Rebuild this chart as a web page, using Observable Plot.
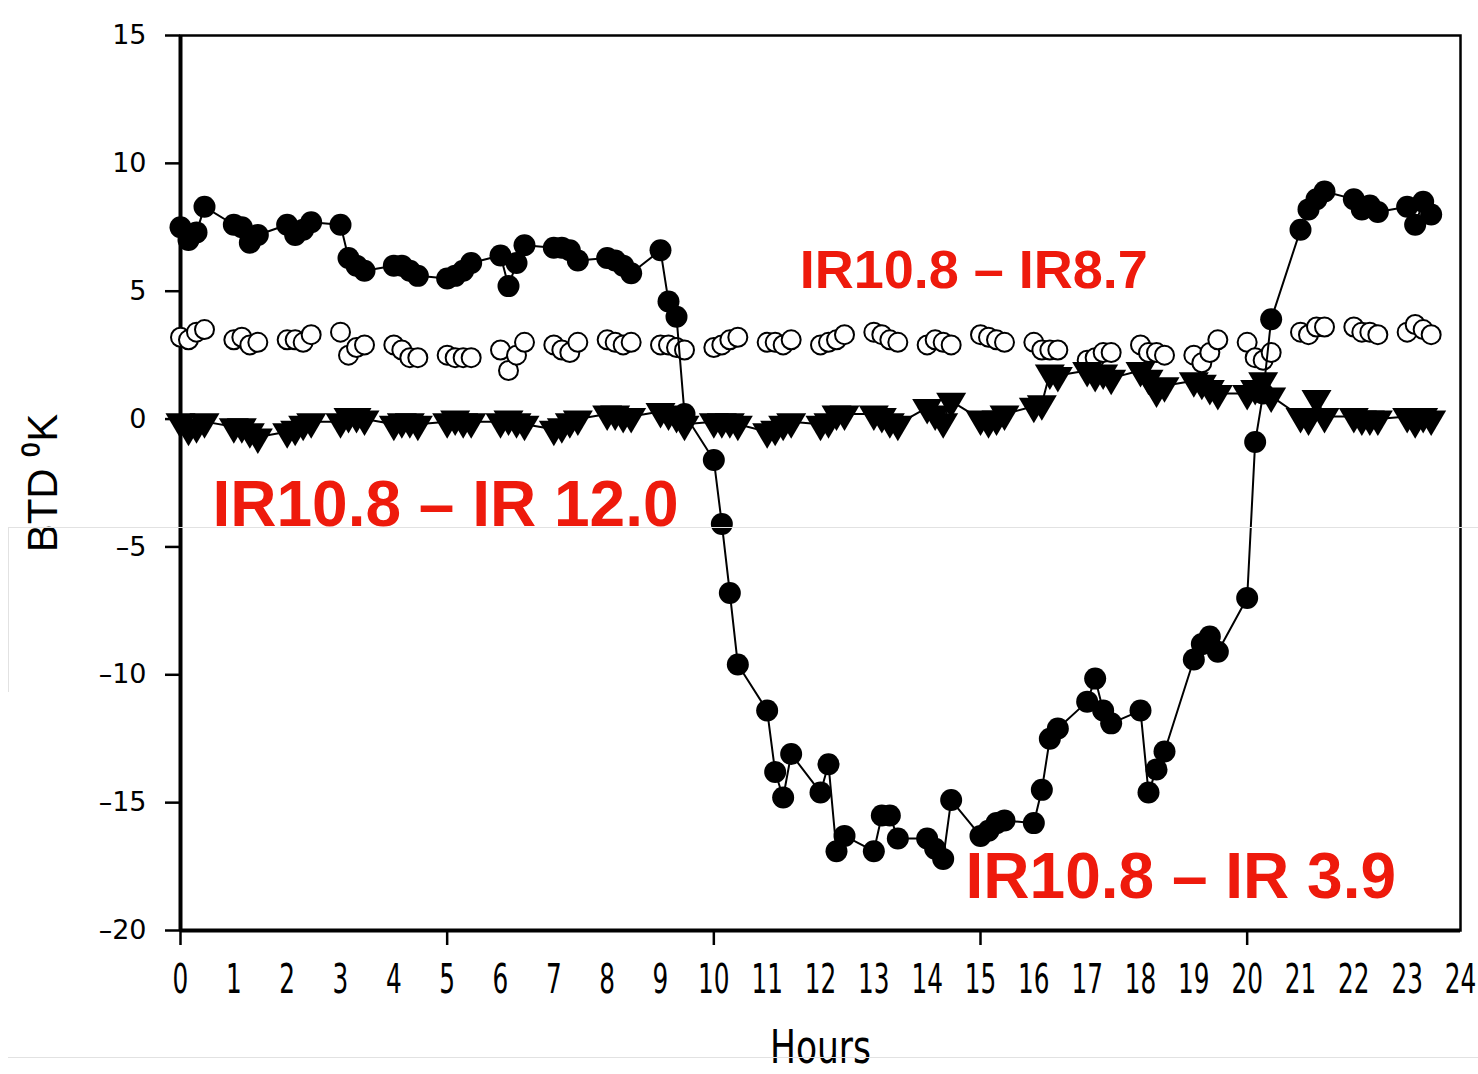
<!DOCTYPE html>
<html><head><meta charset="utf-8">
<script src="https://cdn.jsdelivr.net/npm/d3@7"></script>
<script src="https://cdn.jsdelivr.net/npm/@observablehq/plot@0.6"></script>
<style>
html,body{margin:0;padding:0;background:#fff;}
#wrap{position:relative;width:1478px;height:1074px;overflow:hidden;background:#fff;}
.artifact{position:absolute;background:#e2e2e2;pointer-events:none;}
</style></head><body>
<div id="wrap"></div>
<script>
// Hours of the day and the minute slots within each hour (plotted as hour + minutes/100)
const hoursOfDay = [0,1,2,3,4,5,6,7,8,9,10,11,12,13,14,15,16,17,18,19,20,21,22,23];
const minuteSlots = [0, 15, 30, 45];

// IR10.8 – IR 3.9 (filled circles), one row per hour
const ir39 = [
  [7.5, 7.0, 7.3, 8.3], [7.6, 7.5, 6.9, 7.2], [7.6, 7.2, 7.4, 7.7], [7.6, 6.3, 6.0, 5.8],
  [6.0, 6.0, 5.8, 5.6], [5.5, 5.6, 5.8, 6.1], [6.4, 5.2, 6.1, 6.8], [6.7, 6.7, 6.6, 6.2],
  [6.3, 6.2, 6.0, 5.7], [6.6, 4.6, 4.0, 0.2], [-1.6, -4.1, -6.8, -9.6], [-11.4, -13.8, -14.8, -13.1],
  [-14.6, -13.5, -16.9, -16.3], [-16.9, -15.5, -15.5, -16.4], [-16.4, -16.8, -17.2, -14.9], [-16.3, -16.1, -15.8, -15.7],
  [-15.8, -14.5, -12.5, -12.1], [-11.05, -10.15, -11.4, -11.9], [-11.4, -14.6, -13.7, -13.0], [-9.4, -8.8, -8.5, -9.1],
  [-7.0, -0.9, 1.0, 3.9], [7.4, 8.2, 8.6, 8.9], [8.6, 8.2, 8.35, 8.1], [8.3, 7.6, 8.5, 8.0]
];
// IR10.8 – IR8.7 (open circles)
const ir87 = [
  [3.2, 3.1, 3.4, 3.5], [3.1, 3.2, 2.9, 3.0], [3.1, 3.1, 3.0, 3.3], [3.4, 2.5, 2.8, 2.9],
  [2.9, 2.7, 2.4, 2.4], [2.5, 2.4, 2.4, 2.4], [2.7, 1.9, 2.5, 3.0], [2.9, 2.7, 2.6, 3.0],
  [3.1, 3.0, 2.9, 3.0], [2.9, 2.9, 2.8, 2.7], [2.8, 2.9, 3.1, 3.2], [3.0, 3.0, 2.9, 3.1],
  [2.9, 3.0, 3.1, 3.3], [3.4, 3.3, 3.1, 3.0], [2.9, 3.1, 3.0, 2.9], [3.3, 3.2, 3.1, 3.0],
  [3.0, 2.7, 2.7, 2.7], [2.3, 2.4, 2.6, 2.6], [2.9, 2.6, 2.6, 2.5], [2.5, 2.2, 2.6, 3.1],
  [3.0, 2.4, 2.3, 2.6], [3.4, 3.3, 3.6, 3.6], [3.6, 3.4, 3.4, 3.3], [3.4, 3.7, 3.5, 3.3]
];
// IR10.8 – IR 12.0 (filled down-triangles)
const ir120 = [
  [-0.1, -0.4, -0.3, -0.1], [-0.3, -0.3, -0.5, -0.7], [-0.5, -0.4, -0.2, -0.1], [-0.1, 0.1, 0.1, 0.0],
  [-0.2, -0.1, -0.1, -0.2], [-0.1, 0.0, -0.1, -0.1], [-0.1, 0.0, -0.1, -0.2], [-0.4, -0.3, -0.1, 0.0],
  [0.2, 0.2, 0.1, 0.1], [0.3, 0.2, 0.1, -0.2], [-0.1, -0.1, -0.1, -0.2], [-0.5, -0.4, -0.2, -0.1],
  [-0.2, -0.1, 0.2, 0.2], [0.2, 0.1, -0.1, -0.2], [0.45, 0.2, -0.1, 0.7], [0.0, -0.1, 0.0, 0.2],
  [0.5, 0.6, 1.8, 1.7], [1.9, 1.7, 1.8, 1.6], [1.9, 1.6, 1.1, 1.3], [1.5, 1.4, 1.2, 1.0],
  [1.0, 1.2, 1.5, 0.9], [0.1, 0.0, 0.8, 0.1], [0.1, 0.0, 0.0, 0.0], [0.1, -0.1, 0.1, 0.0]
];

const xTickLabels = [0,1,2,3,4,5,6,7,8,9,10,11,12,13,14,15,16,17,18,19,20,21,22,23,24];
const xMajorTicks = [0, 5, 10, 15, 20];
const yTicks = [-20, -15, -10, -5, 0, 5, 10, 15];

const labelSmall = [{text: "IR10.8 – IR8.7", t: 11.61, v: 5.12}];
const labelBig = [
  {text: "IR10.8 – IR 12.0", t: 0.6, v: -4.18},
  {text: "IR10.8 – IR 3.9", t: 14.72, v: -18.71}
];

const toRows = (rows) => hoursOfDay.flatMap((h, i) => minuteSlots.map((m, j) => ({t: h + m / 100, v: rows[i][j]})));
const d39 = toRows(ir39), d87 = toRows(ir87), d120 = toRows(ir120);

const triangleDown = {
  draw(ctx, size) {
    const r = Math.sqrt(size / Math.PI);
    ctx.moveTo(-1.5 * r, -0.85 * r);
    ctx.lineTo(1.5 * r, -0.85 * r);
    ctx.lineTo(0, 1.7 * r);
    ctx.closePath();
  }
};

const red = "#ee1a0c";
const chart = Plot.plot({
  width: 1478, height: 1074,
  marginLeft: 180, marginRight: 18, marginTop: 35, marginBottom: 144,
  x: {domain: [0, 24], label: null},
  y: {domain: [-20, 15], label: null},
  style: {fontFamily: "'Liberation Sans', Arial, sans-serif", background: "white", color: "black"},
  marks: [
    Plot.axisY({ticks: yTicks, tickSize: 15, tickPadding: 19, strokeWidth: 2.5, fontSize: 27,
      fontFamily: "'DejaVu Sans', sans-serif", label: null,
      tickFormat: d => d < 0 ? "–" + (-d) : String(d)}),
    Plot.axisX({ticks: xMajorTicks, tickSize: 15, strokeWidth: 2.5, tickFormat: () => "", label: null}),
    Plot.axisX({ticks: xTickLabels, tickSize: 0, tickPadding: 34, fontSize: 40,
      fontFamily: "'DejaVu Sans', sans-serif", label: null,
      tickFormat: d => String(d)}),
    Plot.frame({stroke: "black", strokeWidth: 2.5}),
    Plot.ruleX([0], {stroke: "black", strokeWidth: 4}),
    Plot.ruleY([-20], {stroke: "black", strokeWidth: 4}),
    // IR10.8 – IR8.7
    Plot.dot(d87, {x: "t", y: "v", r: 9.5, fill: "white", stroke: "black", strokeWidth: 2}),
    // IR10.8 – IR 12.0
    Plot.line(d120, {x: "t", y: "v", stroke: "black", strokeWidth: 2}),
    Plot.dot(d120, {x: "t", y: "v", r: 10, symbol: triangleDown, fill: "black", stroke: "none"}),
    // IR10.8 – IR 3.9
    Plot.line(d39, {x: "t", y: "v", stroke: "black", strokeWidth: 2}),
    Plot.dot(d39, {x: "t", y: "v", r: 11, fill: "black", stroke: "none"}),
    // series labels
    Plot.text(labelSmall, {x: "t", y: "v", text: "text", textAnchor: "start", lineAnchor: "bottom",
      fontSize: 54, fontWeight: "bold", fill: red}),
    Plot.text(labelBig, {x: "t", y: "v", text: "text", textAnchor: "start", lineAnchor: "bottom",
      fontSize: 64, fontWeight: "bold", fill: red}),
    // axis titles
    Plot.text(["Hours"], {frameAnchor: "bottom", dy: 118, lineAnchor: "middle", fontSize: 46,
      fontFamily: "'DejaVu Sans', sans-serif", fill: "black"}),
    Plot.text(["BTD ⁰K"], {frameAnchor: "left", dx: -137, rotate: -90, textAnchor: "middle",
      lineAnchor: "middle", fontSize: 42, fill: "black"})
  ]
});

// Condensed look of the x-axis type, as in the reference
d3.select(chart).selectAll('g[aria-label="x-axis tick label"] text').each(function () {
  const tr = this.getAttribute("transform") || "";
  this.setAttribute("transform", tr + " scale(0.62,1)");
});
d3.select(chart).selectAll("text").filter(function () { return this.textContent === "Hours"; })
  .each(function () {
    const x = 180 + (1460 - 180) / 2;
    const tr = this.getAttribute("transform");
    if (tr && tr.includes("translate")) this.setAttribute("transform", tr + " scale(0.75,1)");
    else this.setAttribute("transform", `translate(${x},0) scale(0.75,1) translate(${-x},0)` + (tr ? " " + tr : ""));
  });

const wrap = document.getElementById("wrap");
wrap.appendChild(chart);
for (const [l, t, w, h] of [[8, 527, 1470, 1], [8, 527, 1, 165], [8, 1057, 1470, 1]]) {
  const a = document.createElement("div");
  a.className = "artifact";
  a.style.left = l + "px"; a.style.top = t + "px"; a.style.width = w + "px"; a.style.height = h + "px";
  wrap.appendChild(a);
}
</script>
</body></html>
